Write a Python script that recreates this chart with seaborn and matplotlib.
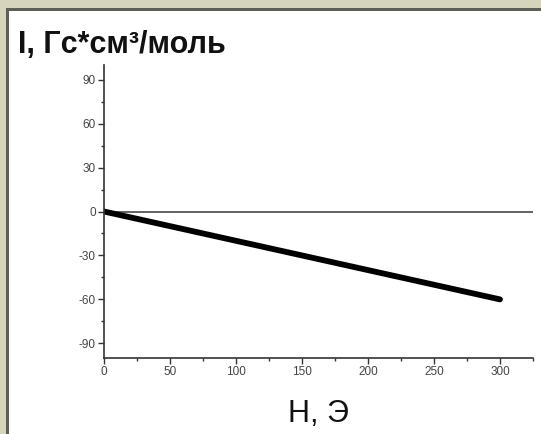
import matplotlib
matplotlib.use("Agg")
import matplotlib.pyplot as plt
import seaborn as sns
import pandas as pd
from matplotlib.patches import Rectangle
from matplotlib.ticker import MultipleLocator

# Data
field_H = [0, 50, 100, 150, 200, 250, 300]
magnetization_I = [0, -10, -20, -30, -40, -50, -60]
x_ticks = [0, 50, 100, 150, 200, 250, 300]
y_ticks = [-90, -60, -30, 0, 30, 60, 90]
title_text = "I, Гс*см³/моль"
xlabel_text = "H, Э"

sns.set_theme(style="ticks")
plt.rcParams['font.family'] = ['Liberation Sans', 'DejaVu Sans']
plt.rcParams['axes.unicode_minus'] = False

fig = plt.figure(figsize=(5.41, 4.34), dpi=100)
fig.patch.set_facecolor("#d6d4bc")
W, H = 541, 434
# white panel with dark border line on left/top
fig.patches.append(Rectangle((6 / W, 0), 1 - 6 / W, 1 - 8 / H, transform=fig.transFigure,
                             facecolor="#5e5e56", edgecolor="none", zorder=-10))
fig.patches.append(Rectangle((9 / W, 0), 1 - 9 / W, 1 - 11 / H, transform=fig.transFigure,
                             facecolor="white", edgecolor="none", zorder=-9))

ax = fig.add_axes([104 / W, 1 - 358 / H, (533 - 104) / W, (358 - 65) / H])
ax.set_facecolor("none")
ax.set_zorder(5)

df = pd.DataFrame({"H": field_H, "I": magnetization_I})
ax.axhline(0, color="#555555", lw=1.3, zorder=1)
sns.lineplot(data=df, x="H", y="I", ax=ax, color="black", linewidth=4.2, zorder=2)

ax.set_xlim(0, 325)
ax.set_ylim(-100, 100)
ax.set_xticks(x_ticks)
ax.set_yticks(y_ticks)
ax.xaxis.set_minor_locator(MultipleLocator(25))
ax.yaxis.set_minor_locator(MultipleLocator(15))
ax.tick_params(which="major", direction="out", length=4, width=1, color="#333333",
               labelsize=8.5, labelcolor="#444444", pad=2)
ax.tick_params(which="minor", direction="out", length=2.5, width=1, color="#333333")
for s in ["top", "right"]:
    ax.spines[s].set_visible(False)
for s in ["left", "bottom"]:
    ax.spines[s].set_color("#333333")
    ax.spines[s].set_linewidth(1.2)
ax.set_xlabel("")
ax.set_ylabel("")

fig.text(18 / W, 1 - 53 / H, title_text, fontsize=22, fontweight="bold", color="#111111",
         ha="left", va="baseline", zorder=6)
fig.text(318 / W, 1 - 422 / H, xlabel_text, fontsize=22, color="#111111",
         ha="center", va="baseline", zorder=6)

fig.savefig("out.png", dpi=100, facecolor=fig.get_facecolor())
